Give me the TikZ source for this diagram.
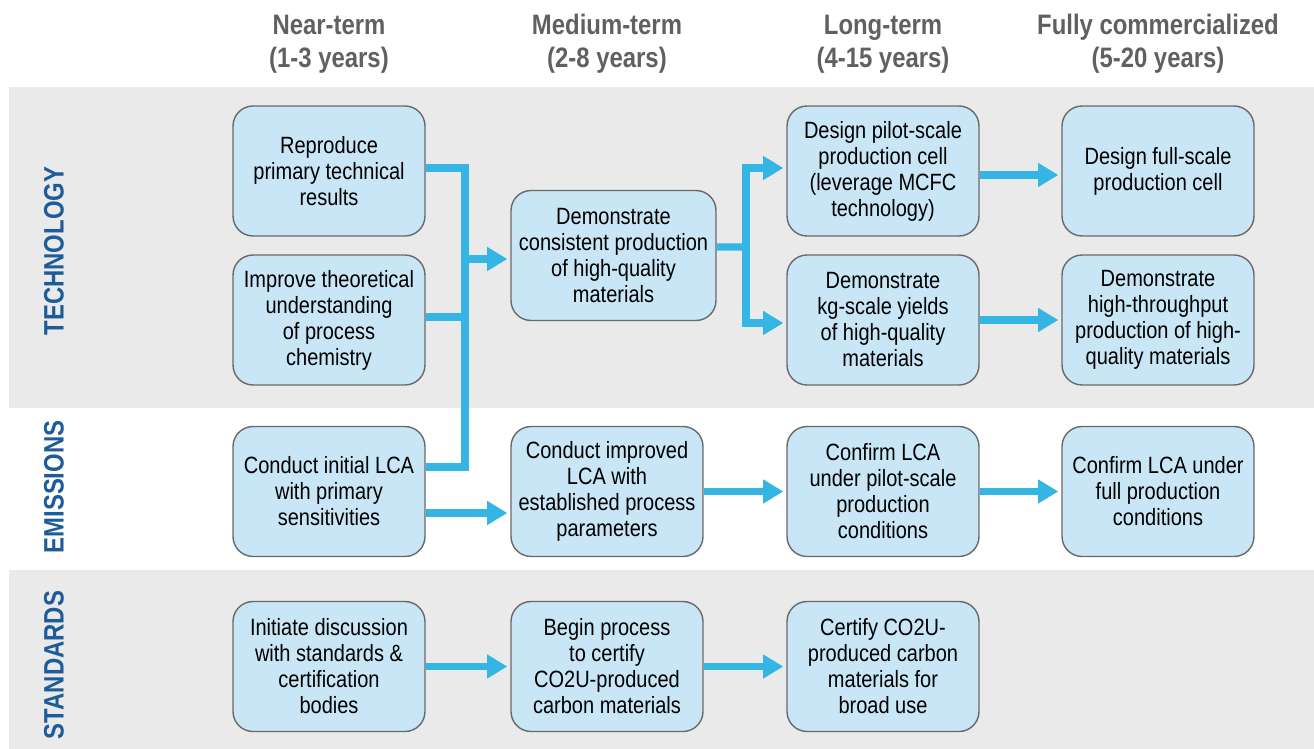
\documentclass[tikz,border=0pt]{standalone}
\usepackage{fontspec}
\setmainfont[FakeStretch=0.85]{Liberation Sans}
\usetikzlibrary{arrows.meta}
\definecolor{band-grey}{RGB}{234,234,234}
\definecolor{box-blue}{RGB}{201,230,246}
\definecolor{box-line}{RGB}{105,105,105}
\definecolor{flow-blue}{RGB}{53,181,228}
\definecolor{head-grey}{RGB}{96,96,96}
\definecolor{lane-blue}{RGB}{29,92,153}
\tikzset{
  stepbox/.style={draw=box-line, fill=box-blue, line width=0.8pt, rounded corners=0.4cm,
    minimum width=3.84cm, minimum height=2.6cm, inner sep=0pt, align=center,
    font=\fontsize{13.4}{14.8}\selectfont},
  colhead/.style={align=center, text=head-grey, font=\bfseries\fontsize{16}{18.7}\selectfont},
  lane/.style={rotate=90, text=lane-blue, font=\bfseries\fontsize{16}{18}\selectfont},
  link/.style={draw=flow-blue, line width=4.2pt},
  flow/.style={link, -{Triangle[length=11.5pt,width=13pt]}, shorten >=0.06cm}
}
\begin{document}
\begin{tikzpicture}[x=0.02cm,y=-0.02cm]
\useasboundingbox (0,0) rectangle (1314,749);
% bands
\fill[band-grey] (9,87) rectangle (1314,408);
\fill[band-grey] (9,570) rectangle (1314,749);
% headings
\node[colhead] (hnear) at (329,44) {Near-term\\(1-3 years)};
\node[colhead] (hmed) at (607,44) {Medium-term\\(2-8 years)};
\node[colhead] (hlong) at (883,44) {Long-term\\(4-15 years)};
\node[colhead] (hfull) at (1158,44) {Fully commercialized\\(5-20 years)};
\node[lane] (ltech) at (54,251) {TECHNOLOGY};
\node[lane] (lemis) at (54,487) {EMISSIONS};
\node[lane] (lstd) at (54,665) {STANDARDS};
% boxes
\node[stepbox] (repro) at (329,171) {Reproduce\\primary technical\\results};
\node[stepbox] (chem) at (329,320) {Improve theoretical\\understanding\\of process\\chemistry};
\node[stepbox] (lcaA) at (329,491.5) {Conduct initial LCA\\with primary\\sensitivities};
\node[stepbox] (disc) at (329,666.5) {Initiate discussion\\with standards \&\\certification\\bodies};
\node[stepbox, minimum width=4.1cm] (cons) at (613.5,255.5) {Demonstrate\\consistent production\\of high-quality\\materials};
\node[stepbox] (lcaB) at (607,491.5) {Conduct improved\\LCA with\\established process\\parameters};
\node[stepbox] (cert) at (607,666.5) {Begin process\\to certify\\CO2U-produced\\carbon materials};
\node[stepbox] (pilot) at (883,171) {Design pilot-scale\\production cell\\(leverage MCFC\\technology)};
\node[stepbox] (kg) at (883,320) {Demonstrate\\kg-scale yields\\of high-quality\\materials};
\node[stepbox] (lcaC) at (883,491.5) {Confirm LCA\\under pilot-scale\\production\\conditions};
\node[stepbox] (certify) at (883,666.5) {Certify CO2U-\\produced carbon\\materials for\\broad use};
\node[stepbox] (full) at (1158,171) {Design full-scale\\production cell};
\node[stepbox] (thru) at (1158,320) {Demonstrate\\high-throughput\\production of high-\\quality materials};
\node[stepbox] (lcaD) at (1158,491.5) {Confirm LCA under\\full production\\conditions};
% connectors
\coordinate (jA) at (465,259);
\coordinate (jB) at (746,247);
\draw[link] ([yshift=0.06cm]repro.east) -| (jA);
\draw[link] ([yshift=0.06cm]chem.east) -| (jA);
\draw[link] ([yshift=0.49cm]lcaA.east) -| (jA);
\draw[flow] (jA) -- (jA -| cons.west);
\draw[link] ([yshift=0.17cm]cons.east) -- (jB);
\draw[flow] (jB) |- ([yshift=0.06cm]pilot.west);
\draw[flow] (jB) |- ([yshift=-0.06cm]kg.west);
\draw[flow] ([yshift=-0.43cm]lcaA.east) -- ([yshift=-0.43cm]lcaB.west);
\draw[flow] (lcaB.east) -- (lcaC.west);
\draw[flow] (lcaC.east) -- (lcaD.west);
\draw[flow] ([yshift=-0.08cm]pilot.east) -- ([yshift=-0.08cm]full.west);
\draw[flow] (kg.east) -- (thru.west);
\draw[flow] (disc.east) -- (cert.west);
\draw[flow] (cert.east) -- (certify.west);
\end{tikzpicture}
\end{document}
